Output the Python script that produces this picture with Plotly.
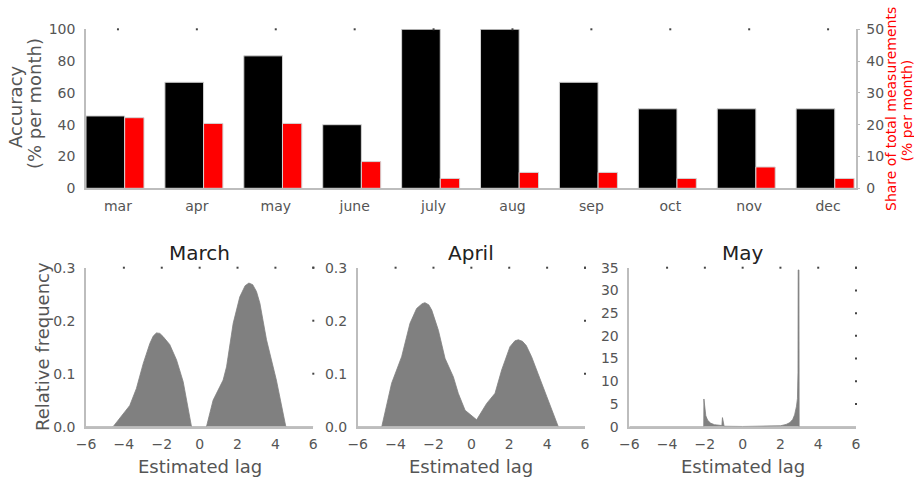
import plotly.graph_objects as go

# Monthly summary
months = ["mar", "apr", "may", "june", "july", "aug", "sep", "oct", "nov", "dec"]
accuracy = [45.5, 66.7, 83.3, 40.0, 100.0, 100.0, 66.7, 50.0, 50.0, 50.0]
share = [22.2, 20.4, 20.4, 8.4, 3.1, 5.0, 5.0, 3.1, 6.7, 3.1]

# Estimated-lag distributions
march_lag = [-6.0, -4.57, -3.69, -3.34, -2.98, -2.63, -2.45, -2.28, -2.1, -1.93, -1.58,
             -1.22, -0.87, -0.43, 0.36, 0.71, 1.24, 1.42, 1.77, 2.12, 2.4, 2.6, 2.8,
             3.0, 3.18, 3.53, 4.05, 4.55, 6.0]
march_freq = [0.0, 0.0, 0.040, 0.072, 0.119, 0.157, 0.171, 0.177, 0.176, 0.170, 0.155,
              0.126, 0.085, 0.0, 0.0, 0.050, 0.088, 0.113, 0.195, 0.245, 0.266, 0.271, 0.268,
              0.255, 0.233, 0.164, 0.088, 0.0, 0.0]

april_lag = [-6.0, -4.73, -4.21, -3.68, -3.24, -2.89, -2.6, -2.45, -2.25, -2.09, -1.74,
             -1.39, -0.95, -0.69, -0.33, 0.28, 0.81, 1.25, 1.60, 2.04, 2.3, 2.48, 2.7,
             2.9, 3.18, 3.54, 3.98, 4.59, 6.0]
april_freq = [0.0, 0.0, 0.082, 0.132, 0.195, 0.223, 0.232, 0.234, 0.230, 0.220, 0.182,
              0.129, 0.094, 0.063, 0.031, 0.013, 0.044, 0.063, 0.107, 0.151, 0.162, 0.164, 0.161,
              0.153, 0.132, 0.097, 0.057, 0.0, 0.0]

may_lag = [-6.0, -2.06, -2.05, -2.0, -1.95, -1.85, -1.7, -1.5, -1.3, -1.1, -1.07, -1.05,
           -1.02, -0.98, 0.0, 1.5, 2.0, 2.3, 2.5, 2.65, 2.75, 2.85, 2.9, 2.93, 2.94, 2.98,
           2.99, 6.0]
may_freq = [0.0, 0.0, 6.1, 3.5, 2.4, 1.4, 0.8, 0.45, 0.3, 0.25, 2.0, 1.6,
            0.6, 0.1, 0.05, 0.05, 0.2, 0.5, 0.9, 1.6, 2.6, 4.5, 6.2, 12.0, 34.5, 34.5,
            0.0, 0.0]

lag_ticks = [-6, -4, -2, 0, 2, 4, 6]
lag_text = ["\u22126", "\u22124", "\u22122", "0", "2", "4", "6"]
freq_ticks = [0.0, 0.1, 0.2, 0.3]
may_ticks = [0, 5, 10, 15, 20, 25, 30, 35]

FONT = "DejaVu Sans"
TICK_C = "#555555"
AXIS_C = "#bdbdbd"
W, H = 914, 478

fig = go.Figure()

# Accuracy (left axis) and share (right axis) bars
fig.add_trace(go.Bar(
    x=list(range(len(months))), y=accuracy, width=0.49, offset=-0.405,
    marker=dict(color="black", line=dict(color="#d4d4d4", width=1)),
    xaxis="x", yaxis="y", hoverinfo="skip"))
fig.add_trace(go.Bar(
    x=list(range(len(months))), y=share, width=0.245, offset=0.085,
    marker=dict(color="#ff0000", line=dict(color="#d4d4d4", width=1)),
    xaxis="x", yaxis="y2", hoverinfo="skip"))

# Lag densities
for lag, freq, xa, ya in [(march_lag, march_freq, "x2", "y3"),
                          (april_lag, april_freq, "x3", "y4"),
                          (may_lag, may_freq, "x4", "y5")]:
    fig.add_trace(go.Scatter(
        x=lag, y=freq, mode="lines", fill="tozeroy",
        line=dict(color="#808080", width=0.8), fillcolor="#808080",
        xaxis=xa, yaxis=ya, hoverinfo="skip"))

# Small tick dots along the top and right edges
dot = dict(symbol="square", size=2, color="#444444")
fig.add_trace(go.Scatter(x=list(range(len(months))), y=[100] * len(months),
                         mode="markers", marker=dot, cliponaxis=False,
                         xaxis="x", yaxis="y", hoverinfo="skip"))
for xa, ya, yt in [("x2", "y3", freq_ticks), ("x3", "y4", freq_ticks), ("x4", "y5", may_ticks)]:
    fig.add_trace(go.Scatter(x=lag_ticks[1:], y=[yt[-1]] * (len(lag_ticks) - 1),
                             mode="markers", marker=dot, cliponaxis=False,
                             xaxis=xa, yaxis=ya, hoverinfo="skip"))
    fig.add_trace(go.Scatter(x=[lag_ticks[-1]] * (len(yt) - 1), y=yt[1:],
                             mode="markers", marker=dot, cliponaxis=False,
                             xaxis=xa, yaxis=ya, hoverinfo="skip"))

def px_x(p):
    return p / W

def px_y(p):
    return 1 - p / H

base_axis = dict(showgrid=False, zeroline=False, showline=True, linecolor=AXIS_C,
                 linewidth=1.5, ticks="", automargin=False,
                 tickfont=dict(family=FONT, size=14, color=TICK_C))

top_dom = [px_y(188.3), px_y(29.3)]
bot_dom = [px_y(426.7), px_y(267.7)]

layout = dict(
    width=W, height=H, margin=dict(l=0, r=0, t=0, b=0, autoexpand=False),
    paper_bgcolor="white", plot_bgcolor="white", showlegend=False,
    barmode="overlay", font=dict(family=FONT, color=TICK_C),
    xaxis=dict(base_axis, domain=[px_x(86), px_x(855.7)], range=[-0.405, 9.35],
               tickvals=list(range(len(months))), ticktext=months, anchor="y",
               ticklabelstandoff=4),
    yaxis=dict(base_axis, domain=top_dom, range=[0, 100], tickvals=[0, 20, 40, 60, 80, 100],
               anchor="x", ticklabelstandoff=6),
    yaxis2=dict(base_axis, domain=top_dom, range=[0, 50], tickvals=[0, 10, 20, 30, 40, 50],
                overlaying="y", side="right", anchor="x", ticks="outside", ticklen=3,
                tickcolor=AXIS_C, ticklabelstandoff=3),
)

panels = [("xaxis2", "yaxis3", "x2", "y3", 86, 313.3, freq_ticks, [f"{v:.1f}" for v in freq_ticks]),
          ("xaxis3", "yaxis4", "x3", "y4", 357.7, 585, freq_ticks, [f"{v:.1f}" for v in freq_ticks]),
          ("xaxis4", "yaxis5", "x4", "y5", 629.3, 856, may_ticks, [str(v) for v in may_ticks])]
for xk, yk, xs, ys, x0, x1, yt, ytt in panels:
    layout[xk] = dict(base_axis, domain=[px_x(x0), px_x(x1)], range=[-6, 6],
                      tickvals=lag_ticks, ticktext=lag_text, anchor=ys, ticklabelstandoff=4)
    layout[yk] = dict(base_axis, domain=bot_dom, range=[0, yt[-1]], tickvals=yt,
                      ticktext=ytt, anchor=xs, ticklabelstandoff=6)

fig.update_layout(**layout)

ann = []
# Two-line axis titles, one annotation per line for tight line spacing
ann.append(dict(text="Accuracy", x=px_x(15), y=px_y(107), textangle=-90,
                font=dict(family=FONT, size=18, color=TICK_C)))
ann.append(dict(text="(% per month)", x=px_x(34), y=px_y(104), textangle=-90,
                font=dict(family=FONT, size=18, color=TICK_C)))
ann.append(dict(text="Share of total measurements", x=px_x(891), y=px_y(109),
                textangle=-90, font=dict(family=FONT, size=14, color="#ff0000")))
ann.append(dict(text="(% per month)", x=px_x(906.5), y=px_y(111),
                textangle=-90, font=dict(family=FONT, size=14, color="#ff0000")))
ann.append(dict(text="Relative frequency", x=px_x(42), y=px_y(347), textangle=-90,
                font=dict(family=FONT, size=18, color=TICK_C)))
for name, x0, x1 in [("March", 86, 313.3), ("April", 357.7, 585), ("May", 629.3, 856)]:
    cx = (x0 + x1) / 2
    ann.append(dict(text=name, x=px_x(cx), y=px_y(253), font=dict(family=FONT, size=20, color="#222222")))
    ann.append(dict(text="Estimated lag", x=px_x(cx), y=px_y(466),
                    font=dict(family=FONT, size=18, color=TICK_C)))
for a in ann:
    a.update(xref="paper", yref="paper", showarrow=False, xanchor="center", yanchor="middle")
fig.update_layout(annotations=ann)

fig.write_html("out.html")
